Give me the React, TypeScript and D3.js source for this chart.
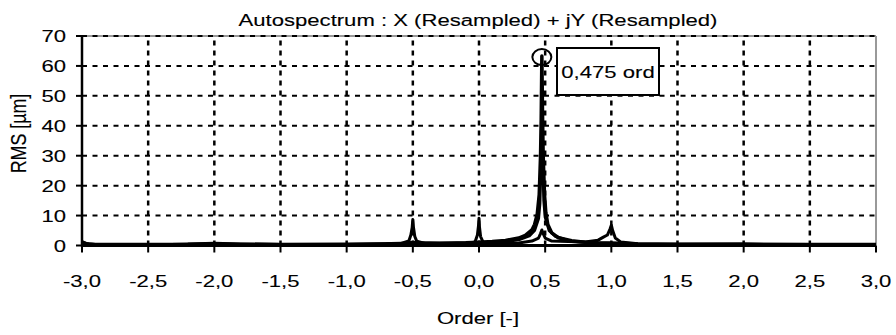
import React from "react";
import * as d3 from "d3";

const TITLE = "Autospectrum : X (Resampled) + jY (Resampled)";
const X_LABEL = "Order [-]";
const Y_LABEL = "RMS [µm]";
const X_TICKS = [-3, -2.5, -2, -1.5, -1, -0.5, 0, 0.5, 1, 1.5, 2, 2.5, 3];
const Y_TICKS = [0, 10, 20, 30, 40, 50, 60, 70];
const MARKER_ORDER = 0.475;
const MARKER_VALUE = 63.3;
const MARKER_TEXT = "0,475 ord";

// Trace 1: main forward component (large peak at 0.475 ord)
const mainOrder = [-3.0, -2.97, -2.9, -2.5, -2.2, -2.0, -1.8, -1.5, -1.0, -0.7, -0.55, -0.5, -0.45, -0.3, -0.1, 0.0, 0.1, 0.2, 0.3, 0.35, 0.4, 0.42, 0.44, 0.455, 0.465, 0.47, 0.475, 0.48, 0.485, 0.495, 0.505, 0.52, 0.55, 0.6, 0.7, 0.8, 0.9, 1.0, 1.2, 1.5, 2.0, 2.5, 3.0];
const mainValue = [1.2, 0.6, 0.35, 0.3, 0.4, 0.7, 0.4, 0.35, 0.4, 0.5, 0.7, 1.0, 0.8, 0.7, 0.9, 1.1, 1.3, 1.7, 2.5, 3.4, 5.2, 7.0, 10.5, 17.0, 30.0, 42.0, 63.3, 44.0, 30.0, 17.0, 11.0, 7.0, 4.2, 2.6, 1.6, 1.1, 0.9, 0.8, 0.5, 0.4, 0.4, 0.3, 0.3];

// Trace 2: companion component (similar shape, slightly lower)
const compOrder = [-3.0, -2.95, -2.5, -2.0, -1.5, -1.0, -0.5, 0.0, 0.2, 0.3, 0.38, 0.42, 0.45, 0.46, 0.47, 0.475, 0.48, 0.49, 0.5, 0.53, 0.58, 0.7, 0.9, 1.2, 2.0, 3.0];
const compValue = [0.9, 0.4, 0.25, 0.5, 0.3, 0.35, 0.8, 0.9, 1.3, 1.9, 3.2, 5.0, 9.0, 14.0, 30.0, 55.0, 32.0, 15.0, 9.5, 5.0, 3.0, 1.3, 0.8, 0.4, 0.35, 0.25];

// Trace 3: sideband components
const sideOrder = [-3.0, -2.95, -2.9, -2.5, -2.0, -1.5, -1.0, -0.6, -0.53, -0.515, -0.505, -0.5, -0.495, -0.485, -0.47, -0.4, -0.1, -0.03, -0.012, -0.004, 0.0, 0.004, 0.012, 0.03, 0.1, 0.3, 0.4, 0.45, 0.465, 0.475, 0.485, 0.5, 0.55, 0.8, 0.9, 0.94, 0.97, 0.99, 1.0, 1.01, 1.03, 1.07, 1.2, 1.5, 2.0, 2.5, 3.0];
const sideValue = [1.0, 0.5, 0.3, 0.25, 0.5, 0.3, 0.3, 0.5, 1.5, 3.5, 6.0, 8.7, 6.0, 3.0, 1.4, 0.6, 0.5, 1.2, 3.5, 6.5, 9.1, 6.0, 3.0, 1.2, 0.6, 0.8, 1.5, 2.5, 4.0, 5.2, 4.0, 2.5, 1.5, 1.2, 1.8, 2.8, 3.5, 5.5, 6.8, 5.0, 2.5, 1.2, 0.6, 0.4, 0.5, 0.3, 0.3];

const W = 896;
const H = 335;
const FS = 17;
const SX = 1.3;
const FONT = "'Liberation Sans', Arial, sans-serif";

function T({ x, y, anchor = "middle", size = FS, children }: any) {
  return (
    <text
      transform={`translate(${x},${y}) scale(${SX},1)`}
      textAnchor={anchor}
      fontSize={size}
      fontFamily={FONT}
      fill="#000"
      stroke="#000"
      strokeWidth={0.12}
    >
      {children}
    </text>
  );
}

export default function App() {
  const x = d3.scaleLinear().domain([-3, 3]).range([82, 876]);
  const y = d3.scaleLinear().domain([0, 70]).range([245.5, 36]);
  const fmt = (v: number) => d3.format(".1f")(v).replace(".", ",").replace("−", "-");

  const line = d3
    .line<[number, number]>()
    .x((d) => x(d[0]))
    .y((d) => y(d[1]));

  const pts = (o: number[], v: number[]) => o.map((d, i) => [d, v[i]] as [number, number]);

  const [x0, x1] = x.range();
  const [y0, y1] = y.range();

  return (
    <svg width={W} height={H} style={{ position: "absolute", left: 0, top: 0 }}>
      <rect x={0} y={0} width={W} height={H} fill="#fff" />
      {/* frame top/right */}
      <line x1={x0} x2={x1} y1={y1} y2={y1} stroke="#999" strokeWidth={2} />
      <line x1={x1} x2={x1} y1={y1} y2={y0} stroke="#999" strokeWidth={2} />
      {/* grid */}
      {Y_TICKS.filter((v) => v > 0).map((v) => (
        <line key={"gy" + v} x1={x0} x2={x1} y1={y(v)} y2={y(v)} stroke="#000" strokeWidth={2} strokeDasharray="5,5.5" />
      ))}
      {X_TICKS.filter((v) => v > -3 && v < 3).map((v) => (
        <line key={"gx" + v} x1={x(v)} x2={x(v)} y1={y0} y2={y1} stroke="#000" strokeWidth={2.5} strokeDasharray="5,5" />
      ))}
      {/* data */}
      <path d={line(pts(sideOrder, sideValue)) || ""} fill="none" stroke="#000" strokeWidth={3} strokeLinejoin="round" />
      <path d={line(pts(compOrder, compValue)) || ""} fill="none" stroke="#000" strokeWidth={3} strokeLinejoin="round" />
      <path d={line(pts(mainOrder, mainValue)) || ""} fill="none" stroke="#000" strokeWidth={3.5} strokeLinejoin="round" />
      {/* axes */}
      <line x1={x0} x2={x0} y1={y1} y2={y0 + 1} stroke="#000" strokeWidth={2.5} />
      <line x1={x0} x2={x1} y1={y0} y2={y0} stroke="#000" strokeWidth={3} />
      {Y_TICKS.map((v) => (
        <line key={"ty" + v} x1={x0 - 6} x2={x0} y1={y(v)} y2={y(v)} stroke="#000" strokeWidth={2} />
      ))}
      {X_TICKS.map((v) => (
        <line key={"tx" + v} x1={x(v)} x2={x(v)} y1={y0} y2={y0 + 7} stroke="#000" strokeWidth={2} />
      ))}
      {Y_TICKS.map((v) => (
        <T key={"ly" + v} x={66} y={y(v) + 6} anchor="end">
          {String(v)}
        </T>
      ))}
      {X_TICKS.map((v) => (
        <T key={"lx" + v} x={x(v)} y={287}>
          {fmt(v)}
        </T>
      ))}
      {/* titles */}
      <T x={478} y={26}>{TITLE}</T>
      <T x={478} y={324}>{X_LABEL}</T>
      <text
        transform={`translate(26,133.5) rotate(-90) scale(1.05,${SX})`}
        textAnchor="middle"
        fontSize={FS}
        fontFamily={FONT}
        stroke="#000"
        strokeWidth={0.12}
      >
        {Y_LABEL}
      </text>
      {/* marker */}
      <ellipse cx={x(MARKER_ORDER)} cy={y(MARKER_VALUE) + 1} rx={9.5} ry={8} fill="none" stroke="#000" strokeWidth={2} />
      <rect x={557} y={48} width={102} height={47} fill="#fff" stroke="#000" strokeWidth={2} />
      <T x={608} y={78}>{MARKER_TEXT}</T>
    </svg>
  );
}
